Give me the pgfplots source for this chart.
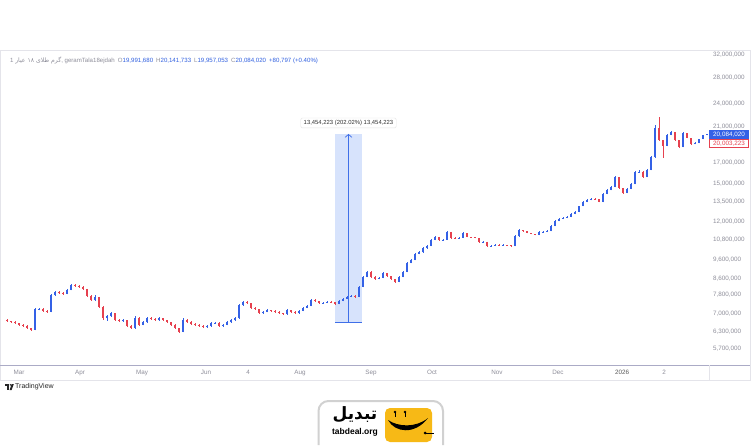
\documentclass[border=0pt]{standalone}
\usepackage{pgfplots}
\pgfplotsset{compat=1.18}
\usepackage{pgfplotstable}
\usepackage{fontspec}
\setmainfont{Liberation Sans}
\newfontfamily\arabicfont[Script=Arabic]{DejaVu Sans}
\TeXXeTstate=1
\usetikzlibrary{arrows.meta}

\definecolor{upc}{HTML}{3461E6}
\definecolor{dnc}{HTML}{E6414F}
\definecolor{tickgray}{HTML}{8E8E9A}
\definecolor{hdrblue}{HTML}{2F5FE0}
\definecolor{measfill}{HTML}{D7E3FC}
\definecolor{measline}{HTML}{3F6FE8}
\definecolor{panelgray}{HTML}{E4E4EA}
\definecolor{axisline}{HTML}{ABABC6}
\definecolor{logoyellow}{HTML}{F7B916}

% candles: x position (time index), open, high, low, close (million)
\pgfplotstableread{
x o h l c
7 6.73 6.76 6.66 6.69
11 6.69 6.71 6.62 6.65
15 6.65 6.68 6.58 6.61
19 6.61 6.63 6.51 6.54
23 6.54 6.57 6.47 6.50
27 6.50 6.53 6.39 6.42
31 6.42 6.44 6.32 6.35
35 6.35 7.22 6.33 7.18
39 7.18 7.24 7.13 7.19
43 7.19 7.22 7.07 7.10
47 7.10 7.13 7.03 7.06
51 7.06 7.84 7.04 7.80
55 7.80 7.98 7.77 7.94
59 7.94 7.97 7.86 7.89
63 7.89 7.92 7.82 7.85
67 7.85 8.06 7.83 8.03
71 8.03 8.31 8.01 8.27
75 8.27 8.30 8.19 8.22
79 8.22 8.25 8.15 8.18
83 8.18 8.21 8.05 8.08
87 8.08 8.10 7.72 7.75
91 7.75 7.78 7.53 7.57
95 7.57 7.80 7.55 7.71
99 7.71 7.73 7.24 7.27
103 7.27 7.29 6.75 6.81
107 6.81 6.95 6.70 6.89
111 6.89 7.05 6.86 7.01
115 7.01 7.03 6.70 6.73
119 6.73 6.78 6.66 6.69
123 6.69 6.76 6.66 6.73
127 6.73 6.75 6.47 6.50
131 6.50 6.53 6.39 6.42
135 6.42 6.90 6.40 6.81
139 6.81 6.84 6.51 6.54
143 6.54 6.68 6.52 6.65
147 6.65 6.84 6.63 6.81
151 6.81 6.84 6.74 6.77
155 6.77 6.80 6.70 6.73
159 6.73 6.84 6.71 6.81
163 6.81 6.83 6.70 6.73
167 6.73 6.75 6.62 6.65
171 6.65 6.67 6.51 6.54
175 6.54 6.56 6.39 6.42
179 6.42 6.44 6.24 6.28
183 6.28 6.80 6.26 6.73
187 6.73 6.76 6.62 6.65
191 6.65 6.68 6.55 6.58
195 6.58 6.60 6.51 6.54
199 6.54 6.57 6.47 6.50
203 6.50 6.52 6.43 6.46
207 6.46 6.53 6.44 6.50
211 6.50 6.64 6.48 6.61
215 6.61 6.65 6.58 6.62
219 6.62 6.64 6.47 6.50
223 6.50 6.57 6.48 6.54
227 6.54 6.68 6.52 6.65
231 6.65 6.76 6.63 6.73
235 6.73 6.84 6.71 6.81
239 6.81 7.40 6.79 7.35
243 7.35 7.53 7.33 7.49
247 7.49 7.52 7.41 7.44
251 7.44 7.46 7.20 7.23
255 7.23 7.25 7.15 7.18
259 7.18 7.20 6.98 7.01
263 7.01 7.09 6.99 7.06
267 7.06 7.17 7.04 7.14
271 7.14 7.16 7.07 7.10
275 7.10 7.12 7.03 7.06
279 7.06 7.08 6.98 7.01
283 7.01 7.03 6.94 6.97
287 6.97 7.17 6.95 7.14
291 7.14 7.16 7.03 7.06
295 7.06 7.08 6.98 7.01
299 7.01 7.13 6.99 7.10
303 7.10 7.26 7.08 7.23
307 7.23 7.34 7.21 7.31
311 7.31 7.61 7.29 7.57
315 7.57 7.60 7.50 7.53
319 7.53 7.55 7.41 7.44
323 7.44 7.48 7.41 7.45
327 7.45 7.52 7.43 7.49
331 7.49 7.51 7.45 7.48
335 7.48 7.50 7.37 7.40
339 7.40 7.56 7.38 7.53
343 7.53 7.65 7.51 7.62
347 7.62 7.74 7.60 7.71
351 7.71 7.78 7.69 7.75
355 7.75 7.78 7.68 7.71
359 7.71 8.22 7.69 8.18
363 8.18 8.72 8.16 8.67
367 8.67 8.98 8.65 8.93
371 8.93 8.96 8.64 8.67
375 8.67 8.70 8.54 8.57
379 8.57 8.65 8.55 8.62
383 8.62 8.92 8.60 8.88
387 8.88 8.90 8.69 8.72
391 8.72 8.74 8.54 8.57
395 8.57 8.59 8.38 8.42
399 8.42 8.70 8.40 8.67
403 8.67 8.97 8.65 8.93
407 8.93 9.45 8.91 9.41
411 9.41 9.62 9.39 9.58
415 9.58 9.97 9.56 9.93
419 9.93 10.08 9.90 10.04
423 10.04 10.32 10.01 10.28
427 10.28 10.44 10.25 10.40
431 10.40 10.83 10.38 10.78
435 10.78 11.02 10.75 10.97
439 10.97 11.00 10.74 10.78
443 10.78 10.83 10.74 10.80
447 10.80 11.35 10.77 11.30
451 11.30 11.33 10.87 10.91
455 10.91 10.94 10.84 10.88
459 10.88 10.95 10.85 10.91
463 10.91 11.27 10.89 11.23
467 11.23 11.26 10.94 10.97
471 10.97 11.00 10.92 10.95
475 10.95 10.98 10.88 10.91
479 10.91 10.93 10.61 10.65
483 10.65 10.70 10.62 10.67
487 10.67 10.68 10.36 10.40
491 10.40 10.45 10.37 10.42
495 10.42 10.50 10.39 10.47
499 10.47 10.50 10.43 10.45
503 10.45 10.50 10.44 10.47
507 10.47 10.49 10.43 10.45
511 10.45 10.48 10.36 10.40
515 10.40 11.07 10.38 11.03
519 11.03 11.48 11.00 11.43
523 11.43 11.46 11.33 11.36
527 11.36 11.38 11.20 11.23
531 11.23 11.25 11.14 11.17
535 11.17 11.19 11.07 11.10
539 11.10 11.34 11.08 11.30
543 11.30 11.35 11.27 11.32
547 11.32 11.40 11.29 11.36
551 11.36 11.74 11.34 11.70
555 11.70 12.09 11.68 12.05
559 12.05 12.24 12.02 12.20
563 12.20 12.31 12.17 12.27
567 12.27 12.38 12.24 12.34
571 12.34 12.60 12.31 12.56
575 12.56 12.75 12.53 12.71
579 12.71 13.20 12.68 13.16
583 13.16 13.53 13.13 13.48
587 13.48 13.69 13.45 13.64
591 13.64 13.77 13.61 13.72
595 13.72 13.76 13.66 13.69
599 13.69 13.73 13.44 13.48
603 13.48 14.18 13.45 14.13
607 14.13 14.51 14.10 14.46
611 14.46 14.78 14.43 14.72
615 14.72 15.70 14.69 15.61
619 15.61 15.65 14.58 14.63
623 14.63 14.66 14.16 14.21
627 14.21 14.60 14.18 14.55
631 14.55 15.03 14.52 14.98
635 14.98 16.15 14.95 16.08
639 16.08 16.30 16.00 16.11
643 16.11 16.14 15.55 15.61
647 15.61 16.33 15.58 16.27
651 16.27 17.62 16.24 17.56
655 17.56 21.20 17.50 20.83
659 20.83 22.22 19.35 19.41
663 19.41 19.45 17.46 18.74
667 18.74 20.10 18.70 19.99
671 19.99 20.50 19.95 20.35
675 20.35 20.40 19.35 19.41
679 19.41 19.45 18.50 18.62
683 18.62 20.30 18.58 20.22
687 20.22 20.26 19.60 19.64
691 19.64 19.68 18.90 18.96
695 18.96 19.20 18.92 19.07
699 19.07 19.57 19.03 19.52
703 19.52 20.03 19.48 19.99
707 19.99 20.14 19.96 20.08
}\candles

\begin{document}
\begin{tikzpicture}
\useasboundingbox (0pt,0pt) rectangle (755pt,445pt);
\begin{scope}[x=1pt,y=1pt]
\fill[white] (0,0) rectangle (755,445);
% chart panel
\draw[panelgray, line width=0.6pt] (0,395) rectangle (750,65);
\draw[axisline, line width=1pt] (0,80) -- (750,80);
\draw[panelgray, line width=0.6pt] (709,80) -- (709,65);
\end{scope}

\begin{axis}[
  at={(0pt,80pt)}, anchor=south west,
  scale only axis, width=710pt, height=315pt,
  xmin=0, xmax=710,
  ymode=log, ymin=5.167, ymax=32.955,
  axis line style={draw=none},
  tick style={draw=none},
  major tick length=0pt,
  clip=true,
  ytick={5.7,6.3,7,7.8,8.6,9.6,10.8,12,13.5,15,17,21,24,28,32},
  yticklabels={{5,700,000},{6,300,000},{7,000,000},{7,800,000},{8,600,000},{9,600,000},{10,800,000},{12,000,000},{13,500,000},{15,000,000},{17,000,000},{21,000,000},{24,000,000},{28,000,000},{32,000,000}},
  yticklabel pos=right,
  yticklabel style={anchor=west, inner sep=0pt, xshift=3pt, font=\fontsize{6.3}{7}\selectfont, text=tickgray},
  xtick={19,80,142,206,248,300,371,432,497,558,622,664},
  xticklabels={Mar,Apr,May,Jun,4,Aug,Sep,Oct,Nov,Dec,{\textcolor{black!65}{2026}},2},
  xticklabel style={anchor=north, inner sep=0pt, yshift=-4.5pt, font=\fontsize{6.3}{7}\selectfont, text=tickgray},
]
% measurement band (behind candles)
\addplot[fill=measfill, draw=none, forget plot] coordinates {(335,6.65) (362,6.65) (362,20.11) (335,20.11)} -- cycle;

% candles
\pgfplotstablegetrowsof{\candles}
\pgfmathtruncatemacro{\lastrow}{\pgfplotsretval-1}
\pgfplotsforeachungrouped \i in {0,...,\lastrow}{%
  \pgfplotstablegetelem{\i}{x}\of\candles \let\cx\pgfplotsretval
  \pgfplotstablegetelem{\i}{o}\of\candles \let\co\pgfplotsretval
  \pgfplotstablegetelem{\i}{h}\of\candles \let\ch\pgfplotsretval
  \pgfplotstablegetelem{\i}{l}\of\candles \let\cl\pgfplotsretval
  \pgfplotstablegetelem{\i}{c}\of\candles \let\cc\pgfplotsretval
  \pgfmathtruncatemacro{\isup}{\cc>=\co}%
  \ifnum\isup=1 \def\ccol{upc}\else\def\ccol{dnc}\fi
  \edef\doplot{%
    \noexpand\addplot[draw=\ccol, line width=0.7pt, forget plot] coordinates {(\cx,\cl) (\cx,\ch)};
    \noexpand\addplot[draw=\ccol, line width=2.9pt, forget plot] coordinates {(\cx,\co) (\cx,\cc)};
  }\doplot
}

% measurement lines
\addplot[measline, line width=0.8pt, forget plot] coordinates {(335,6.65) (362,6.65)};
\addplot[measline, line width=0.7pt, -{Straight Barb[length=3pt,width=7pt]}, forget plot] coordinates {(348.5,6.65) (348.5,20.11)};
\node[fill=white, draw=black!10, rounded corners=1.5pt, inner xsep=3pt, inner ysep=2.2pt,
      font=\fontsize{5.9}{7}\selectfont, text=black!80] at (axis cs:348.5,21.45) {13,454,223 (202.02\%) 13,454,223};
\end{axis}

\begin{scope}[x=1pt,y=1pt]
% price labels on the scale
\node[fill=upc, text=white, minimum width=40pt, minimum height=8.5pt, inner sep=0.5pt, font=\fontsize{6.3}{7}\selectfont] at (729,310.5) {20,084,020};
\node[fill=white, draw=dnc, line width=0.5pt, text=dnc, minimum width=39pt, minimum height=8pt, inner sep=0.5pt, font=\fontsize{6.3}{7}\selectfont] at (729,301.5) {20,003,223};

% header legend
\node[anchor=west, inner sep=0pt, font=\fontsize{6.1}{7.5}\selectfont, text=tickgray] at (10,384)
  {1 {\arabicfont\beginR گرم طلای ۱۸ عیار\endR}, geramTala18ejdah\enspace O\textcolor{hdrblue}{19,991,680}\enspace H\textcolor{hdrblue}{20,141,733}\enspace L\textcolor{hdrblue}{19,957,053}\enspace C\textcolor{hdrblue}{20,084,020}\enspace\textcolor{hdrblue}{+80,797 (+0.40\%)}};

% TradingView mark
\fill[black!85] (5,61) rectangle (9.2,59.4);
\fill[black!85] (7.3,59.4) rectangle (9.2,55);
\fill[black!85] (10.4,60.2) circle (0.85);
\fill[black!85] (11.6,61) -- (13.8,61) -- (11.6,55) -- (9.6,55) -- cycle;
\node[anchor=west, inner sep=0pt, font=\fontsize{7}{8}\selectfont, text=black!85] at (15,58) {TradingView};

% tabdeal logo
\draw[black!18, line width=2pt, rounded corners=10pt] (318.5,0) -- (318.5,44) -- (443,44) -- (443,0);
\node[font=\arabicfont\bfseries\fontsize{17}{18}\selectfont, inner sep=0pt] at (355,30) {\beginR تبدیل\endR};
\node[font=\bfseries\fontsize{8.5}{9}\selectfont, inner sep=0pt] at (355,12.5) {tabdeal.org};
\fill[logoyellow, rounded corners=5pt] (385,37) rectangle (432,3);
\fill[black] (388,25) .. controls (395,12) and (415,10) .. (428,27) .. controls (416,17) and (398,18) .. (388,25) -- cycle;
\draw[black, line width=0.6pt] (395,33) -- (395,28.5);
\draw[black, line width=0.6pt] (405,33) -- (405,28);
\fill[black] (395,33) circle (1.4);
\fill[black] (405,33) circle (1.4);
\draw[black, line width=0.6pt] (425,12) -- (434,12);
\fill[black] (425,12) circle (1.5);
\end{scope}
\end{tikzpicture}
\end{document}
